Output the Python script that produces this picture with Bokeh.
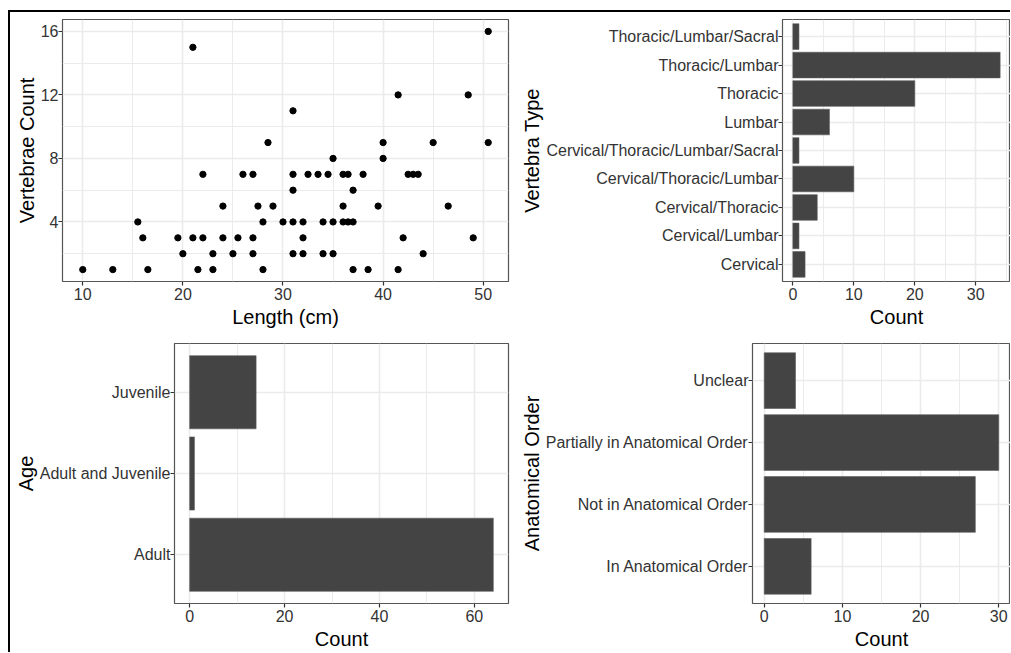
from bokeh.plotting import figure
from bokeh.layouts import row, column
from bokeh.models import FixedTicker
from bokeh.embed import file_html
from bokeh.resources import INLINE

# ---------------- data ----------------
length_cm = [10, 13, 16.5, 21.5, 23, 28, 37, 38.5, 41.5,
             20, 23, 25, 27, 31, 32, 34, 35, 44,
             16, 19.5, 21, 22, 24, 25.5, 27, 32, 42, 49,
             15.5, 28, 30, 31, 32, 34, 35, 36, 36.5, 37,
             24, 27.5, 29, 36, 39.5, 46.5,
             31, 37,
             22, 26, 27, 31, 32.5, 33.5, 34.5, 36, 36.5, 38, 42.5, 43, 43.5,
             35, 40,
             28.5, 40, 45, 50.5,
             31,
             41.5, 48.5,
             21,
             50.5]
vertebrae_count = [1]*9 + [2]*9 + [3]*10 + [4]*10 + [5]*6 + [6]*2 + [7]*13 + [8]*2 + [9]*4 + [11] + [12]*2 + [15] + [16]

vtype_cats = ["Cervical", "Cervical/Lumbar", "Cervical/Thoracic", "Cervical/Thoracic/Lumbar",
              "Cervical/Thoracic/Lumbar/Sacral", "Lumbar", "Thoracic", "Thoracic/Lumbar",
              "Thoracic/Lumbar/Sacral"]
vtype_counts = [2, 1, 4, 10, 1, 6, 20, 34, 1]

age_cats = ["Adult", "Adult and Juvenile", "Juvenile"]
age_counts = [64, 1, 14]

order_cats = ["In Anatomical Order", "Not in Anatomical Order", "Partially in Anatomical Order", "Unclear"]
order_counts = [6, 27, 30, 4]

FONT = "Liberation Sans"
BAR = "#444444"
GRID = "#EBEBEB"


def style(p, xlabel, ylabel):
    p.outline_line_color = "#555555"
    p.outline_line_width = 1.2
    p.background_fill_color = "white"
    p.border_fill_color = "white"
    for ax in (p.xaxis[0], p.yaxis[0]):
        ax.axis_line_color = None
        ax.major_tick_line_color = "#333333"
        ax.major_tick_line_width = 1.2
        ax.major_tick_out = 4
        ax.major_tick_in = 0
        ax.minor_tick_line_color = None
        ax.major_label_text_font = FONT
        ax.major_label_text_font_size = "16px"
        ax.major_label_text_color = "#333333"
        ax.axis_label_text_font = FONT
        ax.axis_label_text_font_size = "20px"
        ax.axis_label_text_font_style = "normal"
        ax.axis_label_text_color = "black"
    p.yaxis[0].major_label_standoff = 0
    p.yaxis[0].axis_label_standoff = 0
    p.xaxis[0].major_label_standoff = 2
    p.xaxis[0].axis_label_standoff = 3
    p.xaxis[0].axis_label = xlabel
    p.yaxis[0].axis_label = ylabel
    for g in (p.xgrid[0], p.ygrid[0]):
        g.grid_line_color = GRID
        g.grid_line_width = 1.6
        g.minor_grid_line_color = GRID
        g.minor_grid_line_width = 1.0


def make_fig(w, h, xr, yr, mbl, mbr, mbt, mbb):
    p = figure(width=w, height=h, x_range=xr, y_range=yr, output_backend="svg",
               toolbar_location=None, min_border_left=mbl, min_border_right=mbr,
               min_border_top=mbt, min_border_bottom=mbb)
    return p


# ---------------- scatter ----------------
xmin, xmax = min(length_cm), max(length_cm)
ymin, ymax = min(vertebrae_count), max(vertebrae_count)
dx, dy = (xmax - xmin) * 0.05, (ymax - ymin) * 0.05
p1 = make_fig(500, 318, (xmin - dx, xmax + dx), (ymin - dy, ymax + dy), 52, 2, 7, 46)
p1.scatter(length_cm, vertebrae_count, size=6.3, color="black")
style(p1, "Length (cm)", "Vertebrae Count")
p1.xaxis.ticker = FixedTicker(ticks=[10, 20, 30, 40, 50], minor_ticks=[15, 25, 35, 45])
p1.yaxis.ticker = FixedTicker(ticks=[4, 8, 12, 16], minor_ticks=[2, 6, 10, 14])


def barh(w, h, cats, counts, majors, minors, ylabel, mbl, mbt, mbb, mbr):
    n = len(cats)
    pos = list(range(1, n + 1))
    top = max(counts)
    p = make_fig(w, h, (-0.05 * top, top * 1.05), (0.4, n + 0.6), mbl, mbr, mbt, mbb)
    p.hbar(y=pos, right=counts, left=0, height=0.9, fill_color=BAR,
           line_color="#5a5a5a", line_width=0.6)
    style(p, "Count", ylabel)
    p.xaxis.ticker = FixedTicker(ticks=majors, minor_ticks=minors)
    p.yaxis.ticker = FixedTicker(ticks=pos)
    p.yaxis.major_label_overrides = {i: c for i, c in zip(pos, cats)}
    p.ygrid.minor_grid_line_color = None
    return p


p2 = barh(500, 318, vtype_cats, vtype_counts, [0, 10, 20, 30], [5, 15, 25, 35],
          "Vertebra Type", 272, 7, 46, 0)
p3 = barh(500, 322, age_cats, age_counts, [0, 20, 40, 60], [10, 30, 50],
          "Age", 164, 13, 45, 2)
p4 = barh(500, 322, order_cats, order_counts, [0, 10, 20, 30], [5, 15, 25],
          "Anatomical Order", 242, 13, 45, 0)

layout = column(row(p1, p2, spacing=0), row(p3, p4, spacing=0), spacing=0,
                styles={"border-left": "2px solid black", "border-top": "2px solid black",
                        "margin-top": "10px", "margin-left": "8px"})

open("out.html", "w").write(file_html(layout, INLINE))
